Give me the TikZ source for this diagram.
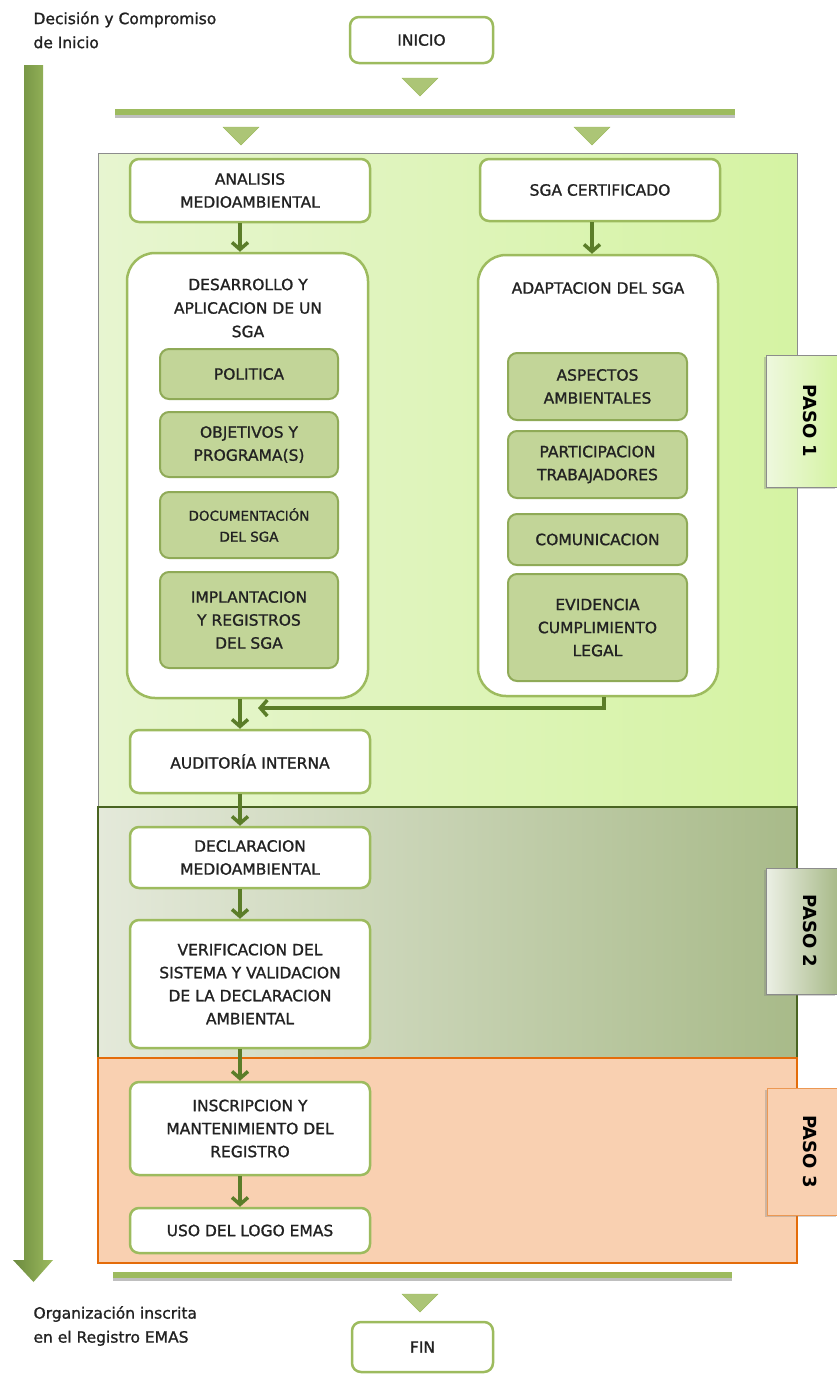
\documentclass[tikz,border=0pt]{standalone}
\usepackage{fontspec}
\setmainfont{DejaVu Sans}
\newfontfamily\cajafont[FakeBold=1.2]{DejaVu Sans}
\usepackage{xcolor}
\usepackage{tikz}
\usetikzlibrary{arrows.meta,shapes,backgrounds,fit,shadows}

\definecolor{olivo}{HTML}{9DBB5E}
\definecolor{olivoOsc}{HTML}{5B7D29}
\definecolor{olivoMed}{HTML}{8FAA57}
\definecolor{olivoPalido}{HTML}{C2D598}
\definecolor{verdeIzq}{HTML}{E7F5D0}
\definecolor{verdeDer}{HTML}{D5F3A3}
\definecolor{grisIzq}{HTML}{E4E9DA}
\definecolor{grisDer}{HTML}{A8BA89}
\definecolor{naranja}{HTML}{E46C0A}
\definecolor{durazno}{HTML}{F9D0B1}
\definecolor{texto}{HTML}{222222}

\begin{document}
\begin{tikzpicture}[x=1pt,y=-1pt]
		\tikzstyle{box}=[draw=olivo, line width=2.5pt, fill=white, rounded corners=9pt, align=center, text=texto, font=\cajafont\fontsize{15.5}{23}\selectfont, minimum width=240]
		\tikzstyle{box_big}=[box, rounded corners=28pt]
		\tikzstyle{box_inner}=[draw=olivoMed, line width=2pt, fill=olivoPalido, rounded corners=9pt, align=center, text=texto, font=\cajafont\fontsize{15.5}{23}\selectfont, minimum width=178]
		\tikzstyle{node_text}=[align=center, text=texto, font=\cajafont\fontsize{15.5}{23.5}\selectfont]
		\tikzstyle{side_text}=[align=left, anchor=west, text=texto, font=\cajafont\fontsize{15.5}{24}\selectfont]
		\tikzstyle{tab_paso}=[draw=black!45, line width=0.8pt, minimum width=71, drop shadow={shadow xshift=-2pt, shadow yshift=-2pt, opacity=0.35}]
		\tikzstyle{tab_text}=[rotate=-90, font=\fontsize{18}{20}\selectfont\bfseries, text=black]
		\tikzstyle{flow}=[draw=olivoOsc, line width=3.5pt, -{Straight Barb[length=7pt,width=16pt]}]
		\tikzstyle{marker}=[fill=olivo!85, draw=olivo]
		\tikzstyle{bar}=[line width=6pt, draw=olivo]

		\useasboundingbox (0,0) rectangle (837,1374);

		% areas de los tres pasos
		\path[left color=verdeIzq, right color=verdeDer, draw=black!45, line width=1pt] (98,153) rectangle (797,807);
		\path[left color=grisIzq, right color=grisDer, draw=olivoOsc!80!black, line width=1.5pt] (98,807) rectangle (797,1058);
		\path[fill=durazno, draw=naranja, line width=2.5pt] (98,1058) rectangle (797,1263);

		% pestañas
		\node [tab_paso, left color=verdeIzq!70, right color=verdeDer, minimum height=132] (paso1) at (801.5,421) {};
		\node [tab_text] at (810,421) {PASO 1};
		\node [tab_paso, left color=grisIzq!70, right color=grisDer, minimum height=126] (paso2) at (801.5,931) {};
		\node [tab_text] at (810,931) {PASO 2};
		\node [tab_paso, fill=durazno, draw=naranja!70, minimum height=127] (paso3) at (802.5,1151.5) {};
		\node [tab_text] at (810,1151.5) {PASO 3};

		% flecha lateral
		\path[left color=olivoOsc!90, right color=olivo, draw=none] (24,65) -- (43,65) -- (43,1260) -- (53,1260) -- (33.5,1282) -- (13,1260) -- (24,1260) -- cycle;
		\node [side_text] (decision) at (30,30) {Decisión y Compromiso\\de Inicio};
		\node [side_text] (inscrita) at (30,1326) {Organización inscrita\\en el Registro EMAS};

		% barras y triangulos
		\draw[bar, draw=black!25] (115,115) -- (735,115);
		\draw[bar] (115,112) -- (735,112);
		\draw[bar, draw=black!25] (113,1278) -- (732,1278);
		\draw[bar] (113,1275) -- (732,1275);
		\foreach \x/\y in {420/78, 241/127, 592/127, 420/1294}
			\filldraw[marker] (\x-18,\y) -- (\x+18,\y) -- (\x,\y+18) -- cycle;

		\node [box, minimum width=143, minimum height=46] (inicio) at (421.5,40) {INICIO};
		\node [box, minimum width=141, minimum height=50] (fin) at (422.5,1347) {FIN};

		\coordinate (eje) at (240,0);
		\coordinate (eje2) at (592,0);

		% columna izquierda
		\node [box, minimum height=63] (analisis) at (250,190.5) {ANALISIS\\MEDIOAMBIENTAL};
		\node [box_big, minimum width=241, minimum height=445] (desarrollo) at (247.5,475.5) {};
		\node [node_text] (desa_title) at (248,308) {DESARROLLO Y\\APLICACION DE UN\\SGA};
		\node [box_inner, minimum height=50] (politica) at (249,374) {POLITICA};
		\node [box_inner, minimum height=65] (objetivos) at (249,444.5) {OBJETIVOS Y\\PROGRAMA(S)};
		\node [box_inner, minimum height=66, font=\cajafont\fontsize{13.5}{21}\selectfont] (documentacion) at (249,525) {DOCUMENTACIÓN\\DEL SGA};
		\node [box_inner, minimum height=96] (implantacion) at (249,620) {IMPLANTACION\\Y REGISTROS\\DEL SGA};
		\node [box, minimum height=63] (auditoria) at (250,761.5) {AUDITORÍA INTERNA};
		\node [box, minimum height=61] (declaracion) at (250,857.5) {DECLARACION\\MEDIOAMBIENTAL};
		\node [box, minimum height=128] (verificacion) at (250,984) {VERIFICACION DEL\\SISTEMA Y VALIDACION\\DE LA DECLARACION\\AMBIENTAL};
		\node [box, minimum height=93] (inscripcion) at (250,1128.5) {INSCRIPCION Y\\MANTENIMIENTO DEL\\REGISTRO};
		\node [box, minimum height=45] (logo) at (250,1230.5) {USO DEL LOGO EMAS};

		% columna derecha
		\node [box, minimum height=62] (certificado) at (600,190) {SGA CERTIFICADO};
		\node [box_big, minimum width=240, minimum height=441] (adaptacion) at (598,475.5) {};
		\node [node_text] (adap_title) at (598,288) {ADAPTACION DEL SGA};
		\node [box_inner, minimum width=179, minimum height=67] (aspectos) at (597.5,386.5) {ASPECTOS\\AMBIENTALES};
		\node [box_inner, minimum width=179, minimum height=67] (participacion) at (597.5,464.5) {PARTICIPACION\\TRABAJADORES};
		\node [box_inner, minimum width=179, minimum height=51] (comunicacion) at (597.5,539.5) {COMUNICACION};
		\node [box_inner, minimum width=179, minimum height=107] (evidencia) at (597.5,627.5) {EVIDENCIA\\CUMPLIMIENTO\\LEGAL};

		% conexiones
		\draw[flow] (analisis.south -| eje) -- (desarrollo.north -| eje);
		\draw[flow] (certificado.south -| eje2) -- (adaptacion.north -| eje2);
		\coordinate (retorno) at (258,708);
		\draw[flow, rounded corners=0pt] ([xshift=6pt]adaptacion.south) |- (retorno);
		\draw[flow] (desarrollo.south -| eje) -- (auditoria.north -| eje);
		\draw[flow] (auditoria.south -| eje) -- (declaracion.north -| eje);
		\draw[flow] (declaracion.south -| eje) -- (verificacion.north -| eje);
		\draw[flow] (verificacion.south -| eje) -- (inscripcion.north -| eje);
		\draw[flow] (inscripcion.south -| eje) -- (logo.north -| eje);

	\end{tikzpicture}
\end{document}
